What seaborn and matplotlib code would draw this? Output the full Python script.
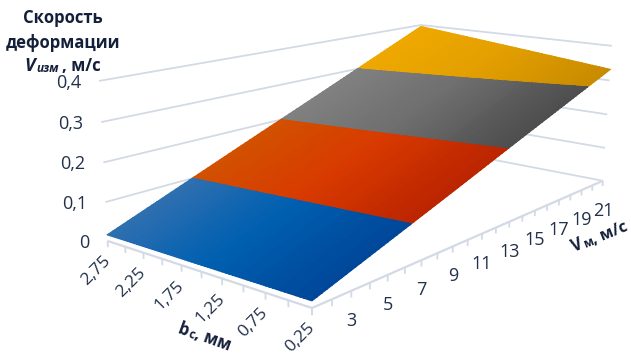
import numpy as np
import matplotlib
matplotlib.use("Agg")
import matplotlib.pyplot as plt
import seaborn as sns
from mpl_toolkits.mplot3d.art3d import Poly3DCollection, Line3DCollection

# Measured deformation speed over the Vm / bc grid
vm_nodes = [1, 5, 9, 13, 17, 21]
bc_nodes = [2.75, 1.5, 0.25]
speed_bc_275 = [0.016, 0.092, 0.168, 0.243, 0.319, 0.395]
speed_bc_150 = [0.016, 0.085, 0.155, 0.224, 0.294, 0.364]
speed_bc_025 = [0.016, 0.079, 0.142, 0.206, 0.269, 0.332]

# Axis tick values and labels
vm_ticks = list(range(1, 22))
vm_labelled = [3, 5, 7, 9, 11, 13, 15, 17, 19, 21]
bc_ticks = [2.75, 2.5, 2.25, 2.0, 1.75, 1.5, 1.25, 1.0, 0.75, 0.5, 0.25]
bc_labelled = [2.75, 2.25, 1.75, 1.25, 0.75, 0.25]
z_ticks = [0, 0.1, 0.2, 0.3, 0.4]
z_labels = ["0", "0,1", "0,2", "0,3", "0,4"]

W, H = 631, 355
TEXT = "#22304a"
TITLE = "#141f3a"
GRID = "#d3dae5"

sns.set_theme(style="white")
plt.rcParams["font.family"] = ["Open Sans", "DejaVu Sans"]

band_levels = [0.0, 0.1, 0.2, 0.3, 0.4]
band_palettes = [
    sns.blend_palette(["#2e6fb0", "#0060b0", "#00479a"], 32),
    sns.blend_palette(["#d25000", "#d83a00", "#bb2500"], 32),
    sns.blend_palette(["#808080", "#6e6e6e", "#4e4e4e"], 32),
    sns.blend_palette(["#eea800", "#e39f00", "#c98c00"], 32),
]


def fit_camera():
    """Perspective camera (3x4) from box corners and where they fall on the canvas."""
    anchors = [
        ((1, 2.75, 0.0), (108, 241)),
        ((1, 2.75, 0.1), (105, 202)),
        ((1, 2.75, 0.4), (99, 81)),
        ((1, 0.25, 0.0), (312, 308)),
        ((21, 0.25, 0.0), (603, 181)),
        ((21, 0.25, 0.2), (607, 114)),
        ((21, 0.25, 0.4), (612, 46)),
        ((21, 2.75, 0.4), (421, 25)),
    ]
    scale = np.diag([1 / 20, 1 / 2.5, 1 / 0.4, 1.0])
    rows = []
    for p, (u, v) in anchors:
        X = scale @ np.array([*p, 1.0])
        v = H - v
        rows.append(np.r_[X, np.zeros(4), -u * X])
        rows.append(np.r_[np.zeros(4), X, -v * X])
    cam = np.linalg.svd(np.array(rows))[2][-1].reshape(3, 4) @ scale
    if (cam @ np.array([10, 1.5, 0.2, 1.0]))[2] < 0:
        cam = -cam
    return cam


CAM = fit_camera()


def to_canvas(x, y, z):
    u, v, w = CAM @ np.array([x, y, z, 1.0])
    return u / w, v / w


def clip_triangle(tri, lo, hi):
    """Clip a triangle to the slab lo <= z <= hi."""
    poly = tri
    for level, sign in ((lo, 1), (hi, -1)):
        out = []
        for i in range(len(poly)):
            a, b = poly[i], poly[(i + 1) % len(poly)]
            da, db = sign * (a[2] - level), sign * (b[2] - level)
            if da >= 0:
                out.append(a)
            if da * db < 0:
                out.append(a + (b - a) * da / (da - db))
        poly = out
        if not poly:
            break
    return poly


fig = plt.figure(figsize=(W / 100, H / 100), dpi=100, facecolor="white")
ax = fig.add_axes([0, 0, 1, 1], projection="3d", computed_zorder=False)
ax.set_axis_off()
ax.patch.set_alpha(0)

# The camera already yields canvas coordinates, so the 2D view is the canvas itself
M = np.vstack([CAM[0], CAM[1], [1e-3, 2e-3, 3e-3, 0.0], CAM[2]])
ax.get_proj = lambda: M
ax.apply_aspect = lambda position=None: None
ax.viewLim.intervalx = (0, W)
ax.viewLim.intervaly = (0, H)

# Wall gridlines
walls = []
for z in z_ticks[1:]:
    walls.append([(1, 2.75, z), (21, 2.75, z)])
    walls.append([(21, 2.75, z), (21, 0.25, z)])
walls.append([(21, 2.75, 0), (21, 0.25, 0)])
ax.add_collection3d(Line3DCollection(walls, colors=GRID, linewidths=1.3, zorder=1))

# Floor axes with their hanging ticks
axes_edges = [[(1, 2.75, 0), (1, 0.25, 0)], [(1, 0.25, 0), (21, 0.25, 0)]]
ax.add_collection3d(Line3DCollection(axes_edges, colors=GRID, linewidths=1.6, zorder=2))
tick_marks = [[(1, b, 0), (1, b, -0.016)] for b in bc_ticks]
tick_marks += [[(v, 0.25, 0), (v, 0.25, -0.016)] for v in vm_ticks]
ax.add_collection3d(Line3DCollection(tick_marks, colors=GRID, linewidths=1.3, zorder=2))

# Surface bands, tessellated so each band can carry its shading
speed = np.array([speed_bc_275, speed_bc_150, speed_bc_025])
vm_fine = np.linspace(vm_nodes[0], vm_nodes[-1], 81)
bc_fine = np.linspace(bc_nodes[0], bc_nodes[-1], 61)
by_vm = np.array([np.interp(vm_fine, vm_nodes, row) for row in speed])
z_fine = np.array([np.interp(-bc_fine, -np.array(bc_nodes), col) for col in by_vm.T]).T
polys, colors = [], []
for i in range(len(bc_fine) - 1):
    for j in range(len(vm_fine) - 1):
        c = [np.array([vm_fine[j + a], bc_fine[i + b], z_fine[i + b, j + a]])
             for a, b in ((0, 0), (1, 0), (1, 1), (0, 1))]
        for tri in ([c[0], c[1], c[2]], [c[0], c[2], c[3]]):
            zs = [p[2] for p in tri]
            for k, pal in enumerate(band_palettes):
                lo, hi = band_levels[k], band_levels[k + 1]
                if max(zs) < lo or min(zs) > hi:
                    continue
                poly = clip_triangle(tri, lo, hi)
                if len(poly) < 3:
                    continue
                t = (2.75 - bc_fine[i]) / 2.5
                polys.append(np.array(poly))
                colors.append(pal[min(31, int(t * 32))])
ax.add_collection3d(Poly3DCollection(polys, facecolors=colors, edgecolors=colors,
                                     linewidths=0.8, zorder=3))

# Tick labels
tick_font = dict(fontsize=13, color=TEXT, annotation_clip=False, textcoords="offset pixels")
for z, s in zip(z_ticks, z_labels):
    ax.annotate(s, to_canvas(1, 2.75, z), xytext=(-18, -2), ha="right", va="center", **tick_font)
for b in bc_labelled:
    ax.annotate(f"{b:.2f}".replace(".", ","), to_canvas(1, b, 0), xytext=(-12, -30), ha="center",
                va="center", rotation=45, rotation_mode="anchor", fontsize=12.5,
                color=TEXT, annotation_clip=False, textcoords="offset pixels")
for v in vm_labelled:
    ax.annotate(str(v), to_canvas(v, 0.25, 0), xytext=(0, -30), ha="center", va="center", **tick_font)


def canvas_text(x, y, s, **kw):
    kw.setdefault("color", TITLE)
    kw.setdefault("fontweight", "bold")
    kw.setdefault("ha", "center")
    kw.setdefault("va", "center")
    fig.text(x / W, 1 - y / H, s, **kw)


# Vertical axis title
canvas_text(63, 18, "Скорость", fontsize=12)
canvas_text(63, 43, "деформации", fontsize=12)
canvas_text(30, 66, "V", fontsize=13, style="italic")
canvas_text(48, 68, "изм", fontsize=8.5, style="italic")
canvas_text(81, 66, ", м/с", fontsize=12)

# Depth axis titles
rot_bc = dict(rotation=-20, rotation_mode="anchor")
canvas_text(183, 330, "b", fontsize=12, **rot_bc)
canvas_text(192, 335, "c", fontsize=8.5, **rot_bc)
canvas_text(213, 340, ", мм", fontsize=12, **rot_bc)
rot_vm = dict(rotation=22, rotation_mode="anchor")
canvas_text(577, 245, "V", fontsize=12, **rot_vm)
canvas_text(588, 243, "м", fontsize=8.5, **rot_vm)
canvas_text(610, 233, ", м/с", fontsize=11.5, **rot_vm)

fig.savefig("out.png", dpi=100, facecolor="white")
